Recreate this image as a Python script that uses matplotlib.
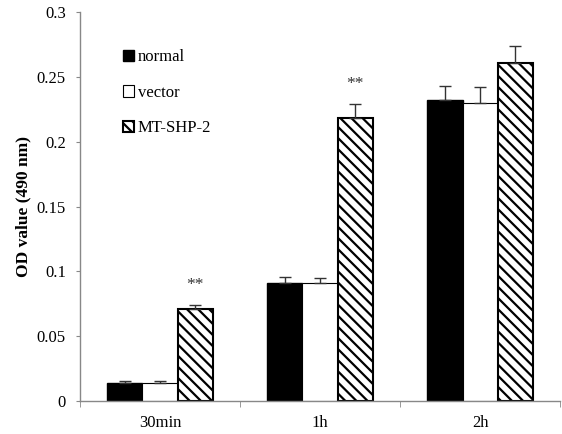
import matplotlib
matplotlib.use("Agg")
import matplotlib.pyplot as plt
import numpy as np

categories = ["30min", "1h", "2h"]
series_names = ["normal", "vector", "MT-SHP-2"]
normal = [0.014, 0.091, 0.232]
normal_err = [0.0015, 0.005, 0.011]
vector = [0.014, 0.091, 0.230]
vector_err = [0.0015, 0.004, 0.012]
mt = [0.071, 0.218, 0.261]
mt_err = [0.003, 0.011, 0.013]
star_labels = ["**", "**", ""]

plt.rcParams['font.family'] = ['Liberation Serif', 'DejaVu Serif']
fig = plt.figure(figsize=(5.62, 4.34), dpi=100)
ax = fig.add_axes([0.142, 0.076, 0.855, 0.896])

x = np.arange(len(categories))
w = 0.22
err_kw = dict(ecolor='#333333', elinewidth=1, capsize=4, capthick=1)
b1 = ax.bar(x - w, normal, w, color='black', edgecolor='black', linewidth=1,
            yerr=[np.zeros(3), normal_err], error_kw=err_kw, label=series_names[0])
b2 = ax.bar(x, vector, w, color='white', edgecolor='black', linewidth=0.8,
            yerr=[np.zeros(3), vector_err], error_kw=err_kw, label=series_names[1])
plt.rcParams['hatch.linewidth'] = 1.6
b3 = ax.bar(x + w, mt, w, color='white', edgecolor='black', linewidth=1.5, hatch='\\\\\\',
            yerr=[np.zeros(3), mt_err], error_kw=err_kw, label=series_names[2])

for i, s in enumerate(star_labels):
    if s:
        ax.text(x[i] + w, mt[i] + mt_err[i] + 0.0095, s, ha='center', va='bottom',
                fontsize=12.5, color='#333333')

ax.set_xlim(-0.5, 2.5)
ax.set_ylim(0, 0.3)
ax.set_yticks([0, 0.05, 0.1, 0.15, 0.2, 0.25, 0.3])
ax.set_yticklabels(["0", "0.05", "0.1", "0.15", "0.2", "0.25", "0.3"])
ax.set_xticks(x)
ax.set_xticklabels(categories)
ax.set_xticks([-0.5, 0.5, 1.5, 2.5], minor=True)
ax.tick_params(axis='x', which='major', length=0, labelsize=12, pad=10)
ax.tick_params(axis='x', which='minor', length=4, color='#888888', direction='out')
ax.tick_params(axis='y', length=3, color='#888888', labelsize=12, pad=7)
for sp in ['top', 'right']:
    ax.spines[sp].set_visible(False)
for sp in ['left', 'bottom']:
    ax.spines[sp].set_color('#888888')
    ax.spines[sp].set_linewidth(1)

ax.set_ylabel("OD value (490 nm)", fontsize=12.5, fontweight='bold', labelpad=4)

ax.legend(loc='upper left', bbox_to_anchor=(0.077, 0.922), frameon=False, fontsize=12,
          handlelength=0.65, handleheight=0.65, handletextpad=0.2, labelspacing=1.18,
          borderaxespad=0)

fig.savefig("out.png", dpi=100)
